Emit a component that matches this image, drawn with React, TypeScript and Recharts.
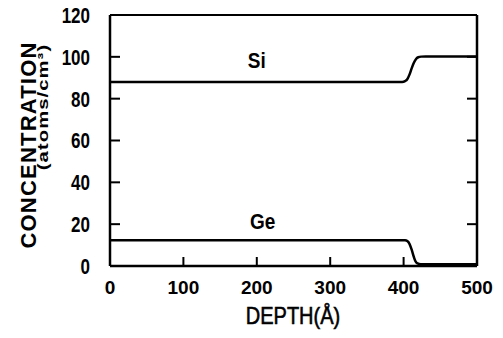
import React from 'react';
import { LineChart, Line, XAxis, YAxis, ReferenceLine, ReferenceDot, Label } from 'recharts';

// Depth (Å) and concentration readings
const siDepth = [0, 398, 402, 405, 408, 411, 414, 417, 420, 424, 430, 500];
const siConc = [88, 88, 88.4, 89.3, 91.5, 94.5, 97.2, 99, 99.8, 100.1, 100.2, 100.2];
const geDepth = [0, 402, 405, 408, 411, 414, 416, 418, 421, 425, 500];
const geConc = [12.3, 12.3, 11.9, 10.6, 7.8, 4.3, 2.4, 1.4, 1, 0.8, 0.8];

const depthTicks = [0, 100, 200, 300, 400, 500];
const concTicks = [0, 20, 40, 60, 80, 100, 120];

const seriesNames = ['Si', 'Ge'];
const labelDepth = [200, 208];
const labelConc = [98.4, 21.4];

const siData = siDepth.map((d, i) => ({ depth: d, conc: siConc[i] }));
const geData = geDepth.map((d, i) => ({ depth: d, conc: geConc[i] }));

const FONT = '"Liberation Sans", Arial, Helvetica, sans-serif';

const LeftTick = (props: any) => {
  const { x, y, payload } = props;
  const ax = x + 20;
  return (
    <g>
      <line x1={ax} x2={ax + 10} y1={y} y2={y} stroke="#000" strokeWidth={2} />
      <text
        transform={`translate(${x},${y}) scale(1,1.3)`}
        textAnchor="end"
        dominantBaseline="central"
        fontFamily={FONT}
        fontWeight="bold"
        fontSize={17}
        fill="#000"
      >
        {payload.value}
      </text>
    </g>
  );
};

const RightTick = (props: any) => {
  const { x, y } = props;
  return <line x1={x - 10} x2={x} y1={y} y2={y} stroke="#000" strokeWidth={2} />;
};

const BottomTick = (props: any) => {
  const { x, y, payload } = props;
  return (
    <g>
      <line x1={x} x2={x} y1={y - 9} y2={y} stroke="#000" strokeWidth={2} />
      <text
        x={x}
        y={y + 28}
        textAnchor="middle"
        fontFamily={FONT}
        fontWeight="bold"
        fontSize={19}
        fill="#000"
      >
        {payload.value}
      </text>
    </g>
  );
};

const SeriesLabel = (text: string) => (p: any) => {
  const vb = p.viewBox || { x: 0, y: 0, width: 0, height: 0 };
  const cx = vb.x + (vb.width || 0) / 2;
  const cy = vb.y + (vb.height || 0) / 2;
  return (
    <text
      transform={`translate(${cx},${cy}) scale(1,1.15)`}
      textAnchor="middle"
      dominantBaseline="central"
      fontFamily={FONT}
      fontWeight="bold"
      fontSize={19}
      fill="#000"
    >
      {text}
    </text>
  );
};

const YTitle = () => (
  <g>
    <text
      transform="translate(36,145) rotate(-90)"
      textAnchor="middle"
      fontFamily={FONT}
      fontWeight="bold"
      fontSize={22}
      letterSpacing={1.2}
      fill="#000"
    >
      CONCENTRATION
    </text>
    <text
      transform="translate(47.5,107) rotate(-90) scale(1.35,1)"
      textAnchor="middle"
      fontFamily={FONT}
      fontWeight="bold"
      fontSize={15}
      letterSpacing={0.8}
      fill="#000"
    >
      (atoms/cm³)
    </text>
  </g>
);

const XTitle = () => (
  <text
    transform="translate(293,324) scale(1,1.2)"
    textAnchor="middle"
    fontFamily={FONT}
    fontSize={20}
    stroke="#000"
    strokeWidth={0.5}
    fill="#000"
  >
    DEPTH(Å)
  </text>
);

export default function App() {
  return (
    <div style={{ position: 'absolute', left: 0, top: 0, width: 503, height: 338, background: '#fff' }}>
      <LineChart width={503} height={338} margin={{ top: 15, right: 16, left: 10, bottom: 32 }}>
        <XAxis
          dataKey="depth"
          type="number"
          domain={[0, 500]}
          ticks={depthTicks}
          height={40}
          tickSize={0}
          tickMargin={0}
          tickLine={false}
          axisLine={{ stroke: '#000', strokeWidth: 2.5 }}
          tick={BottomTick}
          allowDuplicatedCategory={false}
        >
          <Label content={XTitle} />
        </XAxis>
        <YAxis
          yAxisId="l"
          type="number"
          domain={[0, 120]}
          ticks={concTicks}
          width={100}
          tickSize={0}
          tickMargin={20}
          tickLine={false}
          axisLine={{ stroke: '#000', strokeWidth: 2.5 }}
          tick={LeftTick}
        >
          <Label content={YTitle} />
        </YAxis>
        <YAxis
          yAxisId="r"
          orientation="right"
          type="number"
          domain={[0, 120]}
          ticks={concTicks}
          width={10}
          tickSize={0}
          tickMargin={0}
          tickLine={false}
          axisLine={{ stroke: '#000', strokeWidth: 2.5 }}
          tick={RightTick}
        />
        <ReferenceLine yAxisId="l" y={120} stroke="#000" strokeWidth={2.2} />
        <Line
          yAxisId="l"
          data={siData}
          dataKey="conc"
          type="monotone"
          stroke="#000"
          strokeWidth={2.5}
          dot={false}
          isAnimationActive={false}
        />
        <Line
          yAxisId="r"
          data={geData}
          dataKey="conc"
          type="monotone"
          stroke="#000"
          strokeWidth={2.5}
          dot={false}
          isAnimationActive={false}
        />
        {seriesNames.map((n, i) => (
          <ReferenceDot
            key={n}
            yAxisId="l"
            x={labelDepth[i]}
            y={labelConc[i]}
            r={0}
            fill="none"
            stroke="none"
            label={{ content: SeriesLabel(n) }}
          />
        ))}
      </LineChart>
    </div>
  );
}
